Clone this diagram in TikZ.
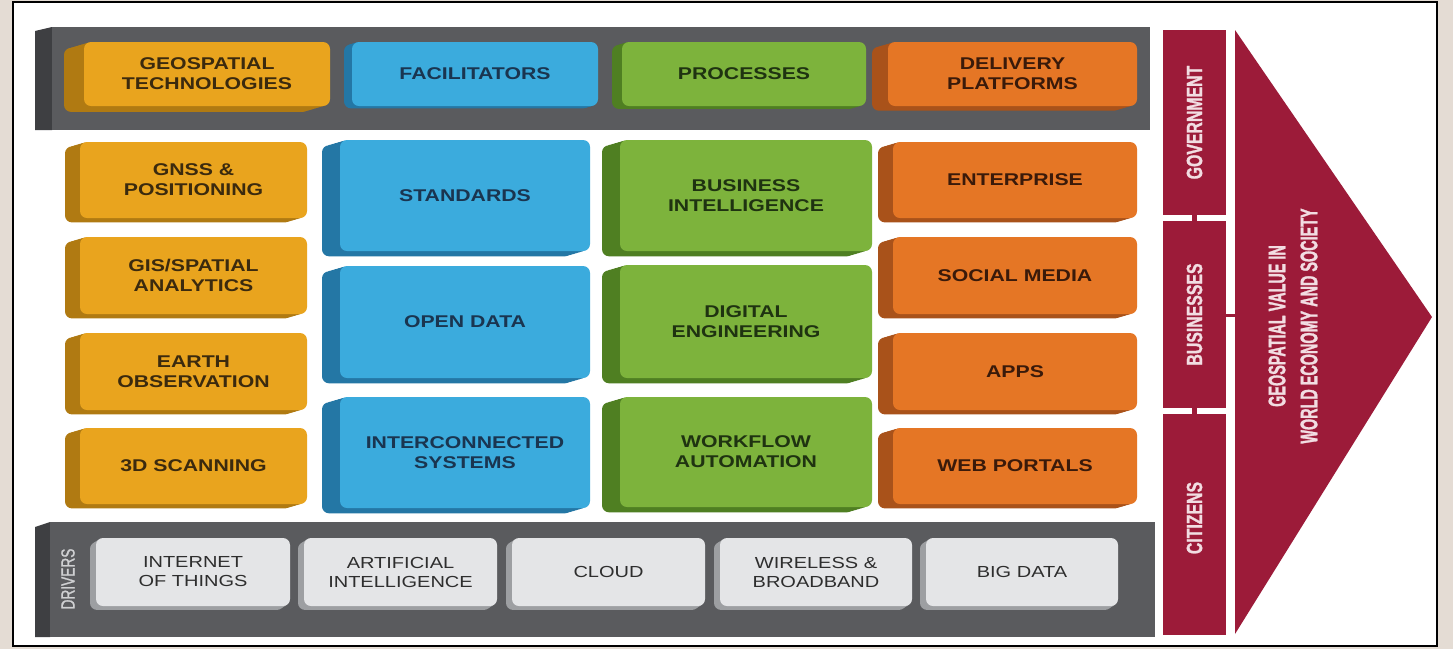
\documentclass[tikz,border=0pt]{standalone}
\usepackage{fontspec}
\setmainfont{Liberation Sans}
\newfontfamily\wideF{Liberation Sans}[FakeStretch=1.25]
\newfontfamily\condF{Liberation Sans}[FakeStretch=0.72,FakeBold=1.2]
\newfontfamily\condG{Liberation Sans}[FakeStretch=0.6,FakeBold=1.2]
\definecolor{bgbeige}{HTML}{E4DCD4}
\definecolor{yelM}{HTML}{E9A41E}\definecolor{yelD}{HTML}{B07A12}\definecolor{yelT}{HTML}{3B2A0E}
\definecolor{bluM}{HTML}{3BABDD}\definecolor{bluD}{HTML}{2477A5}\definecolor{bluT}{HTML}{1A3550}
\definecolor{grnM}{HTML}{7DB33C}\definecolor{grnD}{HTML}{4F7F22}\definecolor{grnT}{HTML}{1F3311}
\definecolor{orgM}{HTML}{E57625}\definecolor{orgD}{HTML}{A9521A}\definecolor{orgT}{HTML}{3A1A0A}
\definecolor{lgtM}{HTML}{E4E5E7}\definecolor{lgtD}{HTML}{9D9FA2}\definecolor{lgtT}{HTML}{2E2E2E}
\definecolor{barM}{HTML}{5A5B5E}\definecolor{barD}{HTML}{3E3F42}
\definecolor{maroon}{HTML}{9C1B39}\definecolor{maroonT}{HTML}{F2DDE2}
\tikzset{
  blkface/.style={rounded corners=7pt, inner sep=0pt, align=center,
    font=\wideF\bfseries\fontsize{17}{20}\selectfont},
  drvface/.style={rounded corners=7pt, inner sep=0pt, align=center,
    font=\wideF\fontsize{16}{19}\selectfont},
  barface/.style={fill=barM, inner sep=0pt},
  sidelabel/.style={fill=maroon, inner sep=0pt},
  sidetext/.style={rotate=90, text=maroonT, font=\condF\bfseries\fontsize{22}{26}\selectfont},
  stub/.style={draw=maroon, line width=5pt},
}
% name, x0, y0, x1, y1, scheme, depth, text
\newcommand\blk[8]{%
  \foreach \k in {1,...,6}{\fill[#6D,rounded corners=7pt]
    ({#2-\k*#7/6},{#3+\k*#7/20.4}) rectangle ({#4-\k*#7/6},{#5+\k*#7/20.4});}
  \node[blkface, fill=#6M, text=#6T, minimum width={(#4-#2)*1pt},
    minimum height={(#5-#3)*1pt}] (#1) at ({(#2+#4)/2},{(#3+#5)/2}) {#8};
}
\newcommand\drv[6]{%
  \foreach \k in {1,...,3}{\fill[lgtD,rounded corners=7pt]
    ({#2-\k*2},{#3+\k*1.3}) rectangle ({#4-\k*2},{#5+\k*1.3});}
  \node[drvface, fill=lgtM, text=lgtT, minimum width={(#4-#2)*1pt},
    minimum height={(#5-#3)*1pt}] (#1) at ({(#2+#4)/2},{(#3+#5)/2}) {#6};
}
\begin{document}
\begin{tikzpicture}[x=1pt,y=-1pt]
\useasboundingbox (0,0) rectangle (1453,649);
\fill[bgbeige] (0,0) rectangle (1453,649);
\draw[fill=white, line width=1.5pt] (13,2) rectangle (1437,646);

% top bar
\fill[barD] (35,31) -- (52,27) -- (52,130) -- (35,130) -- cycle;
\node[barface, minimum width=1098pt, minimum height=103pt] (topbar) at (601,78.5) {};
\blk{geo}{84}{42}{330}{106}{yel}{20}{GEOSPATIAL\\TECHNOLOGIES}
\blk{fac}{352}{42}{598}{106}{blu}{8}{FACILITATORS}
\blk{pro}{622}{42}{866}{106}{grn}{10}{PROCESSES}
\blk{del}{888}{42}{1137}{106}{org}{16}{DELIVERY\\PLATFORMS}

% column 1
\blk{gnss}{80}{142}{307}{218}{yel}{15}{GNSS \&\\POSITIONING}
\blk{gis}{80}{237}{307}{314}{yel}{15}{GIS/SPATIAL\\ANALYTICS}
\blk{eo}{80}{333}{307}{410}{yel}{15}{EARTH\\OBSERVATION}
\blk{scan}{80}{428}{307}{504}{yel}{15}{3D SCANNING}
% column 2
\blk{std}{340}{140}{590}{251}{blu}{18}{STANDARDS}
\blk{od}{340}{266}{590}{378}{blu}{18}{OPEN DATA}
\blk{ics}{340}{397}{590}{508}{blu}{18}{INTERCONNECTED\\SYSTEMS}
% column 3
\blk{bi}{620}{140}{872}{251}{grn}{18}{BUSINESS\\INTELLIGENCE}
\blk{de}{620}{265}{872}{378}{grn}{18}{DIGITAL\\ENGINEERING}
\blk{wa}{620}{397}{872}{507}{grn}{18}{WORKFLOW\\AUTOMATION}
% column 4
\blk{ent}{893}{142}{1137}{218}{org}{15}{ENTERPRISE}
\blk{sm}{893}{237}{1137}{314}{org}{15}{SOCIAL MEDIA}
\blk{apps}{893}{333}{1137}{410}{org}{15}{APPS}
\blk{web}{893}{428}{1137}{504}{org}{15}{WEB PORTALS}

% bottom bar
\fill[barD] (35,527) -- (50,522) -- (50,637) -- (35,637) -- cycle;
\node[barface, minimum width=1105pt, minimum height=115pt] (botbar) at (602.5,579.5) {};
\node[rotate=90, text=lgtM!85!barM, font=\condF\fontsize{19}{22}\selectfont] (drivers) at (68,579) {DRIVERS};
\drv{iot}{96}{538}{290}{606}{INTERNET\\OF THINGS}
\drv{ai}{304}{538}{497}{606}{ARTIFICIAL\\INTELLIGENCE}
\drv{cloud}{512}{538}{705}{606}{CLOUD}
\drv{wire}{720}{538}{912}{606}{WIRELESS \&\\BROADBAND}
\drv{big}{926}{538}{1118}{606}{BIG DATA}

% right side
\node[sidelabel, minimum width=63pt, minimum height=185pt] (gov) at (1194.5,122.5) {};
\node[sidelabel, minimum width=63pt, minimum height=187pt] (bus) at (1194.5,314.5) {};
\node[sidelabel, minimum width=63pt, minimum height=221pt] (cit) at (1194.5,524.5) {};
\node[sidetext] (govt) at (gov.center) {GOVERNMENT};
\node[sidetext] (bust) at (bus.center) {BUSINESSES};
\node[sidetext] (citt) at (1194.5,518) {CITIZENS};
\draw[stub] (gov.south) -- (bus.north);
\draw[stub] (bus.south) -- (cit.north);

\coordinate (ta) at (1235,30);
\coordinate (tb) at (1432,317);
\coordinate (tc) at (1235,634);
\coordinate (tw) at (1235,315);
\fill[maroon] (ta) -- (tb) -- (tc) -- cycle;
\draw[draw=maroon, line width=3pt] (bus.east |- tw) -- (tw);
\node[rotate=90, align=center, text=maroonT, font=\condG\bfseries\fontsize{24}{32}\selectfont] (val) at (1293,326) {GEOSPATIAL VALUE IN\\WORLD ECONOMY AND SOCIETY};
\end{tikzpicture}
\end{document}
